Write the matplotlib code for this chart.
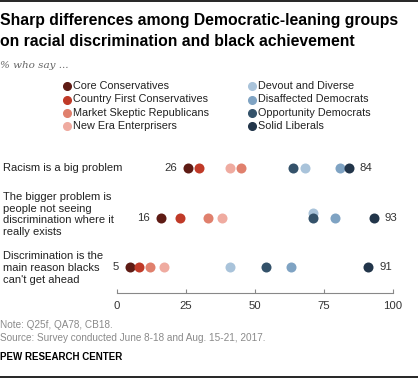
import numpy as np
import matplotlib.pyplot as plt
from matplotlib.lines import Line2D

# data
questions = ["Racism is a big problem",
             "The bigger problem is\npeople not seeing\ndiscrimination where it\nreally exists",
             "Discrimination is the\nmain reason blacks\ncan't get ahead"]
groups = ["Core Conservatives", "Country First Conservatives", "Market Skeptic Republicans",
          "New Era Enterprisers", "Devout and Diverse", "Disaffected Democrats",
          "Opportunity Democrats", "Solid Liberals"]
colors = ["#5e1b14", "#c03a28", "#e0806d", "#efaba0",
          "#a9c3da", "#7fa3c3", "#34526a", "#22354a"]
core = [26, 16, 5]
country_first = [30, 23, 8]
market_skeptic = [45, 33, 12]
new_era = [41, 38, 17]
devout = [68, 71, 41]
disaffected = [81, 79, 63]
opportunity = [64, 71, 54]
solid_liberals = [84, 93, 91]
values = [core, country_first, market_skeptic, new_era,
          devout, disaffected, opportunity, solid_liberals]
# small nudge so tied dots stay visible (Devout on row 2)
nudge = {(4, 1): -0.1}
ticks = [0, 25, 50, 75, 100]

W, H = 418, 378
fig = plt.figure(figsize=(W / 100, H / 100), dpi=100)
plt.rcParams['font.family'] = ['Liberation Sans', 'DejaVu Sans']

def fx(px):
    return px / W

def fy(py):
    return 1 - py / H

# frame lines top and bottom
fig.add_artist(Line2D([0, 1], [fy(0.7), fy(0.7)], color='black', lw=1.2))
fig.add_artist(Line2D([0, 1], [fy(376.5), fy(376.5)], color='black', lw=1.2))

fig.text(fx(0), fy(21), "Sharp differences among Democratic-leaning groups",
         fontsize=11.3, fontweight='bold', va='center', color='black')
fig.text(fx(0), fy(42), "on racial discrimination and black achievement",
         fontsize=11.3, fontweight='bold', va='center', color='black')
fig.text(fx(0), fy(65), "% who say ...", fontsize=7.5, style='italic',
         family='DejaVu Serif', color='#666666', va='center')

# legend
leg_x = [67, 252]
leg_y = [86, 99.5, 113, 126]
for i, g in enumerate(groups):
    cx = leg_x[i // 4]
    cy = leg_y[i % 4]
    fig.add_artist(Line2D([fx(cx)], [fy(cy)], marker='o', markersize=5.5,
                          color=colors[i], linestyle='none'))
    fig.text(fx(cx + 6), fy(cy), g, fontsize=7.8, va='center', color='#222222')

# dot plot axes
left, right = 116.5, 393
top, bottom = 150, 293
ax = fig.add_axes([fx(left), fy(bottom), (right - left) / W, (bottom - top) / H])
rows = np.arange(len(questions))
ax.set_xlim(0, 100)
ax.set_ylim(2.525, -0.364)

for i, v in enumerate(values):
    ys = np.array([r + nudge.get((i, r), 0) for r in rows])
    ax.scatter(v, ys, s=52, color=colors[i], zorder=3, linewidths=0)

allv = np.array(values)
for r in rows:
    lo, hi = allv[:, r].min(), allv[:, r].max()
    ax.annotate(str(lo), (lo, r), xytext=(-8, 0), textcoords='offset points',
                ha='right', va='center', fontsize=8.2, color='#333333')
    ax.annotate(str(hi), (hi, r), xytext=(8, 0), textcoords='offset points',
                ha='left', va='center', fontsize=8.2, color='#333333')

for s in ['top', 'right', 'left']:
    ax.spines[s].set_visible(False)
ax.spines['bottom'].set_color('#888888')
ax.spines['bottom'].set_linewidth(0.8)
ax.set_yticks([])
ax.set_xticks(ticks)
ax.tick_params(axis='x', direction='in', length=3, color='#888888', width=0.8,
               labelsize=8.2, labelcolor='#333333', pad=6)
ax.patch.set_alpha(0)

# question labels
label_y = [168, 214.5, 268]
for q, ly in zip(questions, label_y):
    fig.text(fx(3), fy(ly), q, fontsize=8, va='center', ha='left',
             color='#222222', linespacing=1.2)

fig.text(fx(0), fy(325), "Note: Q25f, QA78, CB18.", fontsize=7.2, color='#8a8a8a', va='center')
fig.text(fx(0), fy(338), "Source: Survey conducted June 8-18 and Aug. 15-21, 2017.",
         fontsize=7.2, color='#8a8a8a', va='center')
fig.text(fx(0), fy(357), "PEW RESEARCH CENTER", fontsize=7, fontweight='bold',
         color='black', va='center')

fig.savefig("out.png", dpi=100)
